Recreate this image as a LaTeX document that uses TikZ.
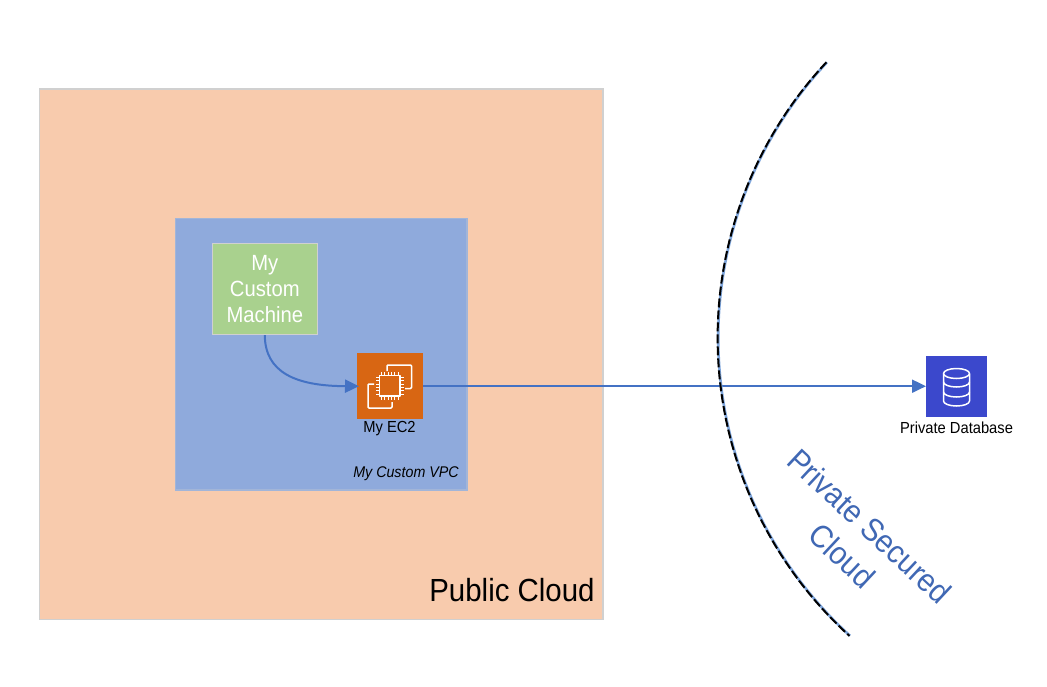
\documentclass[tikz,border=0pt]{standalone}
\usepackage{fontspec}
\setmainfont[FakeStretch=0.92]{Liberation Sans}
\usetikzlibrary{arrows.meta,calc}
\definecolor{peach}{HTML}{F8CBAD}
\definecolor{vpcblue}{HTML}{8FAADC}
\definecolor{mgreen}{HTML}{A9D18E}
\definecolor{ecorange}{HTML}{D86613}
\definecolor{dbblue}{HTML}{3B48CC}
\definecolor{linkblue}{HTML}{4472C4}
\definecolor{cloudtext}{HTML}{4068B4}
\definecolor{edgegray}{HTML}{D0D0D0}
\definecolor{arcblue}{HTML}{7FA6DC}
\tikzset{
  x=1pt,y=-1pt,
  panel/.style={rectangle,draw=edgegray,line width=1.6pt,inner sep=0pt,anchor=north west},
  iconbox/.style={rectangle,inner sep=0pt,anchor=north west},
  link/.style={draw=linkblue,line width=2pt,-{Triangle[length=14pt,width=13pt]}},
  iconline/.style={draw=white,line width=1.5pt,line join=round},
  lab/.style={inner sep=0pt,text=black}
}
\begin{document}
\begin{tikzpicture}
\useasboundingbox (0,0) rectangle (1047,686);
\fill[white] (0,0) rectangle (1047,686);
\node[panel,fill=peach,minimum width=563.5pt,minimum height=530.5pt] (public) at (38.5,88) {};
\node[panel,fill=vpcblue,draw=vpcblue!70!edgegray,minimum width=291.5pt,minimum height=271.5pt] (vpc) at (174.5,217.5) {};
\node[panel,fill=mgreen,minimum width=105pt,minimum height=91pt,text=white,align=center,font=\fontsize{22}{26.5}\selectfont] (machine) at (211.5,242.5) {My\\Custom\\[-0.5pt]Machine};
\node[iconbox,fill=ecorange,minimum width=66pt,minimum height=66pt] (ec2) at (357,353) {};
\node[iconbox,fill=dbblue,minimum width=61pt,minimum height=61pt] (db) at (926,355.5) {};
\draw[link] (machine.south) .. controls (265,372) and (295,386) .. ($(ec2.west)+(2,0)$);
\draw[link] (ec2.east) -- (db.west);
% secured cloud boundary
\draw[arcblue,line width=2.6pt] plot[domain=136.9:227.7,samples=120] ({1121.2+403*cos(\x)},{337.7-403*sin(\x)});
\draw[black,line width=2pt,dash pattern=on 9pt off 3pt] plot[domain=136.9:227.7,samples=120] ({1120.8+403.2*cos(\x)},{337.7-403.2*sin(\x)});
% EC2 icon
\draw[iconline,rounded corners=1pt] (387,371) -- (387,365) -- (411.5,365) -- (411.5,388.5) -- (405,388.5);
\draw[iconline,rounded corners=1pt] (374,384) -- (368,384) -- (368,408) -- (392,408) -- (392,402);
\draw[iconline] (379.5,375.5) rectangle (400,396);
\foreach \t in {0,1,2,3,4,5}{
  \draw[white,line width=1pt] ({381.5+3.3*\t},372) -- ({381.5+3.3*\t},375.5);
  \draw[white,line width=1pt] ({381.5+3.3*\t},396) -- ({381.5+3.3*\t},399.5);
  \draw[white,line width=1pt] (376,{377.5+3.3*\t}) -- (379.5,{377.5+3.3*\t});
  \draw[white,line width=1pt] (400,{377.5+3.3*\t}) -- (403.5,{377.5+3.3*\t});
}
% database icon
\draw[iconline] (956.5,373.5) ellipse [x radius=13pt,y radius=5pt];
\draw[iconline] (943.5,373.5) -- (943.5,401) arc[start angle=180,end angle=360,x radius=13pt,y radius=5pt] -- (969.5,373.5);
\draw[iconline] (943.5,382) arc[start angle=180,end angle=360,x radius=13pt,y radius=5pt];
\draw[iconline] (943.5,392) arc[start angle=180,end angle=360,x radius=13pt,y radius=5pt];
% labels
\node[lab,font=\fontsize{16}{18}\selectfont] (ec2label) at (389.5,428.5) {My EC2};
\node[lab,font=\fontsize{16}{18}\selectfont] (dblabel) at (956.5,428) {Private Database};
\node[lab,font=\fontsize{15.5}{18}\selectfont\itshape] (vpclabel) at (406,473.5) {My Custom VPC};
\node[lab,font=\fontsize{32}{36}\selectfont] (publiclabel) at (512,590) {Public Cloud};
\node[lab,text=cloudtext,rotate=-43,align=center,font=\fontsize{32}{40}\selectfont] (cloudlabel) at (856,541) {Private Secured\\Cloud};
\end{tikzpicture}
\end{document}
